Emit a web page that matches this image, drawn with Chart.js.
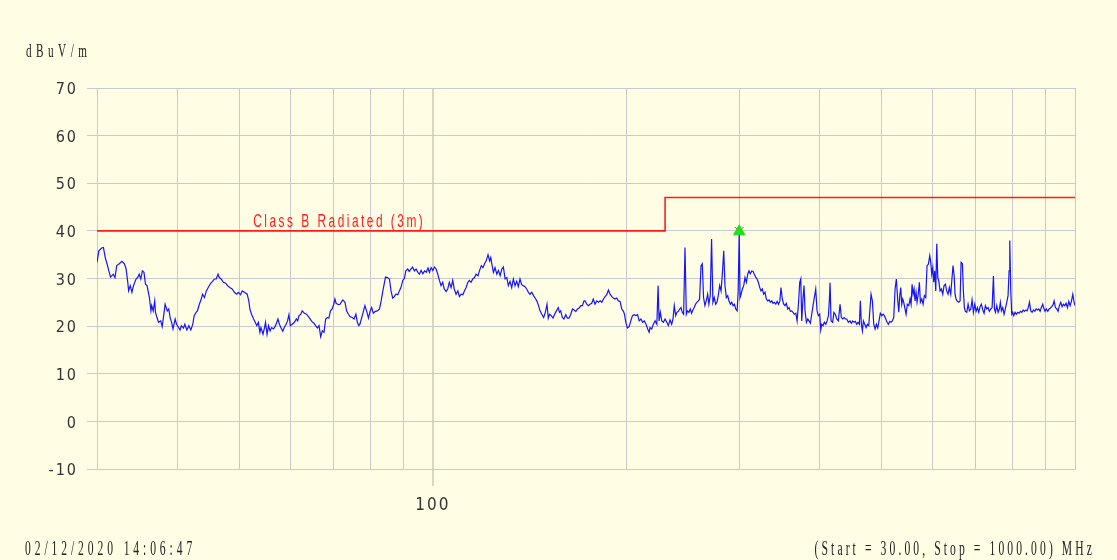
<!DOCTYPE html>
<html>
<head>
<meta charset="utf-8">
<script src="https://cdn.jsdelivr.net/npm/chart.js@4.4.0/dist/chart.umd.min.js"></script>
<style>
    html, body { margin: 0; padding: 0; background: #fffde3; }
    #wrap { width: 1117px; height: 560px; }
</style>
</head>
<body>
<div id="wrap"><canvas id="emiChart" width="1117" height="560"></canvas></div>
<script>
// scan trace, MHz / dBuV/m
const freqs = [
    30.0,30.2,30.5,30.7,30.9,31.1,31.3,31.5,31.8,32.0,
    32.2,32.5,32.8,33.1,33.3,33.5,33.6,33.8,34.0,34.2,
    34.5,34.7,34.9,35.1,35.3,35.5,35.7,35.9,36.2,36.4,
    36.5,36.7,36.9,37.0,37.2,37.4,37.7,37.9,38.1,38.3,
    38.6,38.8,39.0,39.2,39.4,39.7,39.9,40.2,40.4,40.6,
    40.9,41.1,41.4,41.7,42.0,42.3,42.5,42.8,43.0,43.3,
    43.6,43.8,44.1,44.4,44.7,45.1,45.4,45.7,46.0,46.3,
    46.5,46.8,47.2,47.6,47.9,48.3,48.7,49.1,49.5,49.8,
    50.2,50.5,50.9,51.4,51.7,51.9,52.2,52.6,52.9,53.2,
    53.5,53.8,54.0,54.4,54.7,54.9,55.2,55.5,55.8,56.1,
    56.5,56.9,57.4,57.7,58.0,58.4,58.7,59.1,59.4,59.7,
    60.0,60.4,60.9,61.3,61.6,61.9,62.3,62.6,63.1,63.6,
    64.2,64.8,65.3,65.7,66.1,66.5,66.9,67.3,67.7,68.1,
    68.5,68.9,69.3,69.7,70.1,70.4,70.7,71.3,71.7,
    72.4,73.0,73.4,73.9,74.3,74.9,75.4,75.9,76.3,76.7,
    77.0,77.5,77.9,78.4,78.9,79.4,79.85,80.3,80.8,81.4,
    82.0,82.6,83.1,83.6,84.0,84.4,85.0,85.6,86.1,86.6,
    87.1,87.6,88.2,88.7,89.2,89.8,90.3,90.8,91.4,91.9,
    92.5,93.0,93.6,94.2,94.8,95.3,95.9,96.5,97.1,97.7,
    98.3,98.8,99.4,100.0,100.6,101.2,101.8,102.4,103.0,103.6,
    104.2,104.9,105.5,106.1,106.8,107.4,108.0,108.7,109.4,110.0,
    110.7,111.4,112.0,112.7,113.4,114.0,114.7,115.4,116.1,116.8,
    117.6,118.2,119.0,119.7,120.4,121.1,121.9,122.6,123.1,123.7,
    124.3,125.0,125.8,126.5,127.3,128.1,128.8,129.6,130.4,131.1,
    131.9,132.7,133.5,134.3,135.1,135.9,136.7,137.5,138.3,139.2,
    140.0,140.9,141.7,142.6,143.5,144.3,145.2,146.1,146.9,147.8,
    148.8,149.7,150.6,151.3,152.0,152.9,153.9,154.8,155.8,156.8,
    157.5,158.2,159.1,160.0,161.1,162.0,163.0,164.0,165.0,166.0,
    167.0,168.0,169.0,170.0,171.0,172.0,
    172.6,173.7,174.7,175.7,176.8,177.8,178.9,180.0,181.1,182.2,
    183.3,184.4,185.5,186.6,187.7,188.8,190.0,191.1,192.2,193.4,
    194.5,195.7,196.9,198.1,198.8,199.8,200.9,202.2,203.4,204.6,
    205.8,207.1,208.4,209.6,210.9,212.2,213.5,214.8,216.1,217.2,
    217.9,219.2,220.5,221.9,223.3,224.3,225.1,226.1,227.3,228.6,
    230.0,231.4,232.7,234.1,235.5,236.6,237.7,238.9,240.0,241.2,
    242.4,243.5,244.6,245.8,247.0,248.2,249.3,250.5,251.7,252.9,
    254.1,255.3,256.5,257.7,259.1,260.3,261.6,262.8,264.0,265.3,
    266.6,267.9,269.1,270.4,271.7,273.0,274.3,275.7,277.0,278.3,
    279.7,281.1,282.4,283.8,285.1,286.5,287.9,289.3,290.7,292.1,
    293.5,294.9,296.3,297.8,298.9,300.0,300.9,302.0,303.4,304.9,
    306.3,307.8,309.3,310.7,312.2,313.8,315.3,316.7,318.3,319.8,
    321.3,322.9,324.4,325.9,327.5,329.1,330.6,332.3,333.9,335.5,
    337.1,338.7,340.3,342.1,343.7,345.4,347.1,348.5,350.1,351.9,
    353.5,355.2,357.0,358.7,360.4,362.2,363.9,365.6,367.5,369.2,
    371.0,372.7,374.1,375.4,377.2,378.5,379.9,381.7,383.6,385.3,
    387.2,389.1,390.9,392.7,394.7,396.6,398.4,400.4,401.9,403.3,
    405.2,407.1,409.2,411.1,413.1,414.6,
    415.5,417.0,419.4,421.3,423.3,425.6,428.1,430.7,432.7,434.9,
    436.9,439.0,441.1,443.7,446.4,448.5,450.7,452.9,455.0,457.3,
    459.4,461.6,463.2,464.9,466.6,468.3,470.6,472.8,475.0,477.4,
    479.6,481.3,483.6,486.0,488.3,490.6,493.0,495.3,497.6,500.1,
    502.5,504.8,507.4,509.8,512.1,514.7,517.1,519.5,522.1,524.6,
    527.0,529.7,531.6,533.5,535.4,537.3,539.2,541.2,543.1,545.7,
    548.2,551.0,553.6,555.6,557.6,559.6,561.6,563.6,565.6,567.6,
    569.7,572.4,574.4,577.3,580.0,582.7,585.6,588.3,591.2,594.1,
    596.2,598.3,600.5,602.6,604.8,607.0,609.2,611.4,613.6,616.4,
    619.3,622.4,625.3,628.3,631.3,634.3,637.3,640.5,643.5,645.8,
    648.1,650.5,652.8,655.9,659.2,662.3,664.7,667.8,670.2,672.6,
    675.0,678.4,681.6,684.8,688.2,691.4,694.7,698.2,701.4,704.8,
    708.2,711.5,714.8,718.4,721.8,725.2,728.8,732.3,735.7,739.4,
    742.9,746.4,749.1,751.8,755.5,759.0,762.5,765.2,768.0,771.8,
    775.4,779.0,782.9,786.6,789.5,791.5,794.3,797.1,800.0,802.9,
    806.6,810.5,814.6,818.4,822.3,826.5,830.4,834.2,838.5,842.4,
    846.4,849.4,853.4,857.5,861.6,865.9,870.0,874.1,878.2,882.3,
    886.4,890.8,894.0,898.2,902.4,907.0,911.3,915.6,920.2,924.6,
    927.9,932.2,936.9,941.1,945.5,950.3,954.8,959.3,964.1,968.6,
    973.2,978.1,982.6,987.2,992.1,995.7,1000
];
const levels = [
    33.4,35.8,36.4,36.5,34.4,33.1,31.6,30.3,30.9,30.2,
    32.7,33.1,33.6,33.1,32.0,29.2,27.4,28.5,27.1,28.5,
    29.9,30.2,30.9,29.9,31.6,31.3,28.8,28.5,26.0,23.2,
    24.3,23.2,25.3,22.9,21.8,20.8,21.1,19.9,22.2,24.6,
    23.2,23.6,21.8,20.8,19.4,21.5,20.4,19.7,19.2,20.1,
    19.6,20.4,19.2,20.1,19.2,20.4,22.2,22.9,23.2,24.6,
    25.7,26.7,26.0,27.4,28.1,29.0,29.4,29.9,29.9,30.9,
    30.2,29.9,29.2,29.0,28.5,28.1,27.8,27.1,26.7,27.1,
    26.6,27.4,27.1,26.7,25.3,23.6,22.5,21.5,20.8,20.1,
    20.8,18.7,19.7,18.3,19.7,20.8,18.3,20.1,19.0,19.7,
    19.4,20.1,21.5,20.4,19.7,18.9,19.7,20.4,21.1,22.4,
    20.1,20.4,20.8,21.5,21.1,22.2,22.5,23.2,22.7,22.5,
    21.8,21.0,20.6,20.1,19.6,20.1,17.8,19.0,18.7,21.5,
    21.8,21.7,23.2,23.6,24.6,25.7,24.8,24.5,24.6,
    25.5,25.0,23.2,22.5,22.0,21.8,21.5,22.5,20.8,20.1,
    20.4,21.8,22.9,24.3,23.1,21.7,23.1,23.9,22.7,23.1,
    23.2,23.6,25.3,27.4,28.8,30.3,30.2,29.9,27.4,25.9,
    26.2,26.7,26.6,27.4,28.1,29.6,30.0,31.6,32.0,31.5,
    32.0,32.4,31.6,32.0,31.3,30.9,31.7,31.0,31.6,31.3,
    32.2,31.3,32.3,31.7,32.4,32.0,30.9,29.6,28.5,29.2,
    27.8,27.3,27.8,29.2,28.1,29.6,27.8,26.7,27.4,26.2,
    26.7,26.6,27.4,28.1,29.2,29.6,29.2,29.9,30.2,30.9,
    30.6,31.6,32.7,32.3,33.1,33.7,35.0,33.7,34.4,32.7,
    31.3,32.3,30.9,31.7,30.6,32.0,32.4,29.9,30.2,28.5,
    29.4,28.1,29.9,28.5,29.4,28.3,29.9,28.7,28.5,28.3,
    27.8,27.1,26.7,27.1,26.4,25.9,25.3,24.3,23.2,22.5,
    21.8,22.9,24.6,21.7,22.5,22.2,21.7,22.5,23.2,23.9,
    22.9,23.2,21.8,21.5,22.4,21.7,21.7,22.5,23.6,23.4,
    23.1,23.6,23.8,24.3,24.3,25.3,
    25.3,24.6,24.3,24.6,24.8,25.7,24.6,25.3,25.0,25.3,
    25.0,25.7,26.2,26.6,27.6,26.7,26.2,25.9,25.7,25.9,
    25.3,25.2,23.6,23.1,22.5,20.8,19.6,19.9,21.1,22.2,
    22.4,22.2,22.4,21.1,21.5,20.8,21.1,20.4,19.4,18.7,
    19.7,19.4,20.4,21.1,20.4,28.5,21.1,22.9,21.1,20.8,
    21.5,20.8,20.1,21.3,20.4,21.5,24.3,22.2,22.9,23.1,
    23.6,23.9,22.9,22.5,36.5,22.5,23.2,22.9,23.6,22.7,
    23.4,23.9,24.6,25.0,25.3,25.7,32.7,33.1,26.0,24.3,
    25.3,26.7,24.6,26.4,38.3,25.0,26.0,24.6,25.0,26.4,
    28.5,27.4,30.9,35.8,28.5,26.0,26.4,25.2,24.6,25.0,
    24.3,24.6,23.6,23.2,27.4,39.9,26.0,26.7,27.8,28.5,
    30.2,29.2,30.9,31.6,31.0,31.6,31.5,30.9,30.3,29.9,
    29.2,28.1,27.4,27.8,26.7,27.1,25.7,25.3,25.5,25.0,
    25.3,24.8,25.0,24.6,25.2,24.6,25.3,28.1,25.7,24.6,
    24.3,24.8,23.6,23.9,23.1,23.2,22.9,22.5,22.7,21.1,
    24.6,29.2,29.9,21.1,26.0,28.5,23.2,20.8,21.5,21.1,
    20.6,22.5,24.3,26.0,27.8,23.2,22.2,22.5,19.2,20.4,
    20.1,20.8,20.4,21.1,22.2,25.7,
    29.1,21.1,20.8,22.9,22.5,21.5,21.1,24.6,21.8,21.5,
    21.8,21.5,21.5,20.8,21.1,20.6,21.1,20.8,21.0,20.4,
    20.8,20.4,25.3,20.4,19.0,21.1,20.4,19.7,20.4,20.1,
    23.9,26.7,25.3,20.4,19.4,20.4,19.6,21.1,22.7,22.2,
    22.5,22.2,21.5,20.8,20.4,21.0,20.8,21.1,21.8,27.8,
    29.9,25.3,22.9,26.4,28.1,24.6,25.7,25.0,23.9,22.5,
    24.6,24.3,25.7,24.6,28.8,26.7,27.8,25.3,27.1,25.0,
    26.4,29.2,25.0,25.7,24.6,26.4,26.0,32.7,33.0,34.8,
    33.4,30.9,32.3,29.2,31.6,27.4,37.3,30.2,29.5,27.4,
    27.8,26.7,28.5,28.8,27.4,26.7,28.1,26.7,30.2,32.7,
    30.9,26.7,25.7,25.2,25.0,25.3,33.4,33.1,27.4,23.9,
    23.1,22.9,24.6,23.2,23.6,25.5,22.9,24.6,23.1,23.9,
    22.9,24.1,24.6,23.4,22.7,24.3,23.6,23.9,23.1,23.6,
    23.9,30.5,23.6,22.9,24.3,22.9,23.6,25.0,23.2,23.9,
    22.5,23.6,25.0,26.4,31.6,38.0,27.4,22.5,22.9,22.2,
    22.9,22.5,22.9,22.7,23.1,22.9,23.4,23.1,23.4,23.2,
    24.1,25.0,23.2,22.9,23.4,23.1,23.6,23.4,23.6,23.1,
    23.9,24.6,23.8,23.1,23.6,23.1,23.6,23.8,24.1,24.5,
    25.3,23.9,23.6,23.1,24.3,25.0,24.1,24.6,24.3,24.8,
    23.9,25.2,24.3,25.2,26.7,25.3,24.3
];

// Class B radiated limit (3 m)
const limitFreqs = [30, 230, 230, 1000];
const limitLevels = [40, 40, 47, 47];

// peak marker
const peakFreqs = [300];
const peakLevels = [39.9];

const gridFreqs = [30, 40, 50, 60, 70, 80, 90, 100, 200, 300, 400, 500, 600, 700, 800, 900, 1000];
const labelFreqs = [100];
const yMin = -10, yMax = 70, yStep = 10;

const unitText = 'dBuV/m';
const limitName = 'Class B Radiated (3m)';
const stampText = '02/12/2020 14:06:47';
const rangeText = '(Start = 30.00, Stop = 1000.00) MHz';

const paperColor = '#fffde3';
const gridColor = '#c9c9cf';
const mainGridColor = '#dad6c2';

// draws condensed, letter-spaced text
function spacedText(c, text, x, y, o) {
    c.save();
    c.font = o.font;
    c.fillStyle = o.color;
    c.textBaseline = 'middle';
    c.textAlign = 'left';
    c.letterSpacing = (o.spacing / o.sx) + 'px';
    const w = c.measureText(text).width * o.sx;
    let x0 = x;
    if (o.align === 'center') x0 = x - w / 2;
    if (o.align === 'right') x0 = x - w;
    c.translate(x0, y);
    c.scale(o.sx, 1);
    c.fillText(text, 0, 0);
    c.restore();
}

const paper = {
    id: 'paper',
    beforeDraw(chart) {
        const c = chart.ctx;
        c.save();
        c.fillStyle = paperColor;
        c.fillRect(0, 0, chart.width, chart.height);
        c.restore();
        c.letterSpacing = '2px';
    },
    afterDatasetsDraw(chart) {
        const c = chart.ctx;
        const xs = chart.scales.x, ys = chart.scales.y;
        spacedText(c, limitName, xs.getPixelForValue(71.5), ys.getPixelForValue(limitLevels[0]) - 9,
            { font: '18px "Liberation Sans", Arial, sans-serif', color: '#ff2020', spacing: 2.5, sx: 0.66, align: 'center' });
    },
    afterDraw(chart) {
        const c = chart.ctx;
        const serif = '"Liberation Serif", "DejaVu Serif", serif';
        spacedText(c, unitText, 26, 52, { font: '18px ' + serif, color: '#222', spacing: 4.5, sx: 0.62, align: 'left' });
        spacedText(c, stampText, 25, 550, { font: '20px ' + serif, color: '#222', spacing: 3.9, sx: 0.58, align: 'left' });
        spacedText(c, rangeText, 1095, 550, { font: '20px ' + serif, color: '#222', spacing: 3.1, sx: 0.58, align: 'right' });
    }
};

document.addEventListener('DOMContentLoaded', function () {
    const ctx = document.getElementById('emiChart').getContext('2d');

    const trace = freqs.map((f, i) => ({ x: f, y: levels[i] }));
    const limit = limitFreqs.map((f, i) => ({ x: f, y: limitLevels[i] }));
    const peak = peakFreqs.map((f, i) => ({ x: f, y: peakLevels[i] }));

    const isMain = (context) => context.tick && labelFreqs.includes(context.tick.value);
    const tickFont = { family: '"Liberation Sans Narrow", "DejaVu Sans Condensed", sans-serif', size: 16 };

    const config = {
        type: 'line',
        data: {
            datasets: [
                {
                    type: 'scatter',
                    data: peak,
                    pointStyle: 'triangle',
                    pointRadius: 6.5,
                    backgroundColor: '#1fe01f',
                    borderColor: '#1fe01f',
                    borderWidth: 1,
                    order: 0
                },
                {
                    type: 'scatter',
                    data: peak,
                    pointStyle: 'crossRot',
                    pointRadius: 6,
                    borderColor: '#ff3030',
                    borderWidth: 1,
                    order: 1
                },
                {
                    data: limit,
                    borderColor: '#ff1a1a',
                    borderWidth: 1.6,
                    pointRadius: 0,
                    tension: 0,
                    fill: false,
                    order: 2
                },
                {
                    data: trace,
                    borderColor: '#1414ff',
                    borderWidth: 1.2,
                    pointRadius: 0,
                    tension: 0,
                    fill: false,
                    order: 3
                }
            ]
        },
        options: {
            responsive: false,
            animation: false,
            devicePixelRatio: 1,
            layout: { padding: { top: 88, right: 42, left: 0, bottom: 0 } },
            plugins: {
                legend: { display: false },
                tooltip: { enabled: false }
            },
            scales: {
                x: {
                    type: 'logarithmic',
                    min: 30,
                    max: 1000,
                    afterBuildTicks: (scale) => {
                        scale.ticks = gridFreqs.map(v => ({ value: v }));
                    },
                    afterFit: (scale) => { scale.height = 91; },
                    ticks: {
                        autoSkip: false,
                        maxRotation: 0,
                        padding: 9,
                        color: '#333',
                        font: { family: tickFont.family, size: 17 },
                        callback: (v) => labelFreqs.includes(v) ? String(v) : ''
                    },
                    grid: {
                        color: (c) => isMain(c) ? mainGridColor : gridColor,
                        lineWidth: (c) => isMain(c) ? 2 : 1,
                        tickColor: (c) => isMain(c) ? mainGridColor : 'rgba(0,0,0,0)',
                        tickLength: 17
                    },
                    border: { color: gridColor }
                },
                y: {
                    min: yMin,
                    max: yMax,
                    afterFit: (scale) => { scale.width = 97; },
                    ticks: {
                        stepSize: yStep,
                        padding: 9,
                        labelOffset: 2,
                        color: '#333',
                        font: tickFont
                    },
                    grid: {
                        color: gridColor,
                        tickColor: gridColor,
                        tickLength: 10
                    },
                    border: { color: gridColor }
                }
            }
        },
        plugins: [paper]
    };

    new Chart(ctx, config);
});
</script>
</body>
</html>
